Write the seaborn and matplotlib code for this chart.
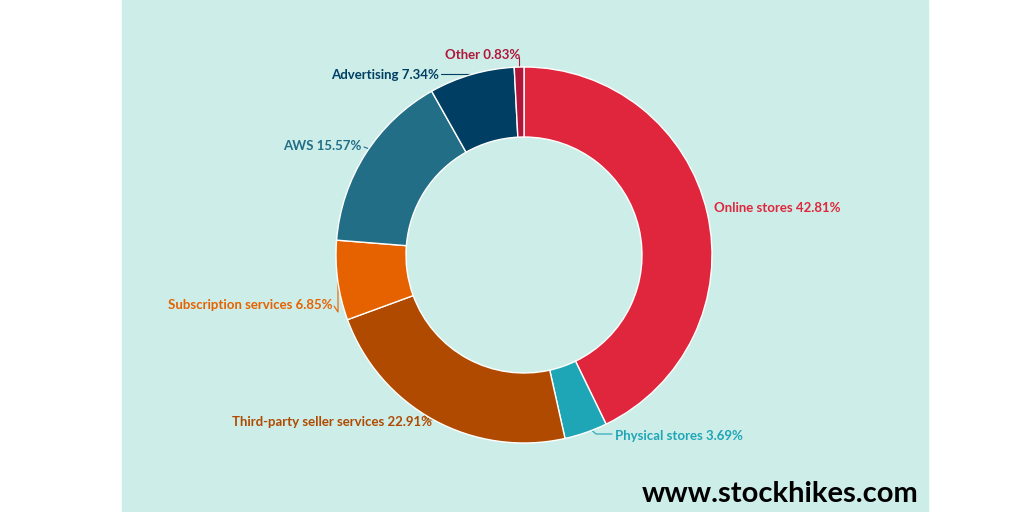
import matplotlib
matplotlib.use("Agg")
import matplotlib.pyplot as plt
import seaborn as sns
from matplotlib.patches import Rectangle

sns.set_theme(style="white")
plt.rcParams['font.family'] = ['Lato', 'DejaVu Sans']

categories = ["Online stores", "Physical stores", "Third-party seller services",
              "Subscription services", "AWS", "Advertising", "Other"]
values = [42.81, 3.69, 22.91, 6.85, 15.57, 7.34, 0.83]
colors = ["#E0263D", "#1FA6B6", "#AF4A00", "#E66200", "#226E87", "#003F63", "#B0163A"]

fig = plt.figure(figsize=(10.24, 5.12), dpi=100)
fig.patch.set_facecolor("white")
ax = fig.add_axes([0, 0, 1, 1])
ax.set_xlim(0, 1024); ax.set_ylim(512, 0)
ax.axis("off")
ax.add_patch(Rectangle((122, 0), 806, 512, color="#CDEDE8", zorder=0))

# pie in separate axes to keep circular geometry
pax = fig.add_axes([0, 0, 1, 1])
pax.set_xlim(0, 1024); pax.set_ylim(0, 512)
pax.set_aspect("equal"); pax.axis("off")
pax.pie(values, colors=colors, startangle=90, counterclock=False,
        center=(524, 257), radius=188, frame=True,
        wedgeprops=dict(width=70, edgecolor="white", linewidth=1))
pax.set_xlim(0, 1024); pax.set_ylim(0, 512); pax.axis("off")

# labels: (text position x,y in image px, ha, leader line pts)
labels = [
    (714, 208, "left", None),
    (615, 436, "left", [(588, 427), (596, 434), (612, 434)]),
    (432, 422, "right", [(420, 408), (428, 420), (432, 420)]),
    (333, 305, "right", [(338, 282), (338, 312), (334, 306)]),
    (361, 146, "right", [(378, 160), (372, 150), (364, 147)]),
    (439, 75, "right", [(470, 86), (470, 74), (441, 74)]),
    (520, 55, "right", [(519, 66), (519, 57)]),
]
for (x, y, ha, pts), cat, v, c in zip(labels, categories, values, colors):
    ax.text(x, y, f"{cat} {v:.2f}%", color=c, ha=ha, va="center",
            fontsize=9.5, fontweight="bold", zorder=5)
    if pts:
        xs, ys = zip(*pts)
        ax.plot(xs, ys, color=c, lw=0.8, zorder=4)

ax.text(918, 494, "www.stockhikes.com", ha="right", va="center",
        fontsize=21, fontweight="bold", color="black", zorder=5)

fig.savefig("out.png", dpi=100)
